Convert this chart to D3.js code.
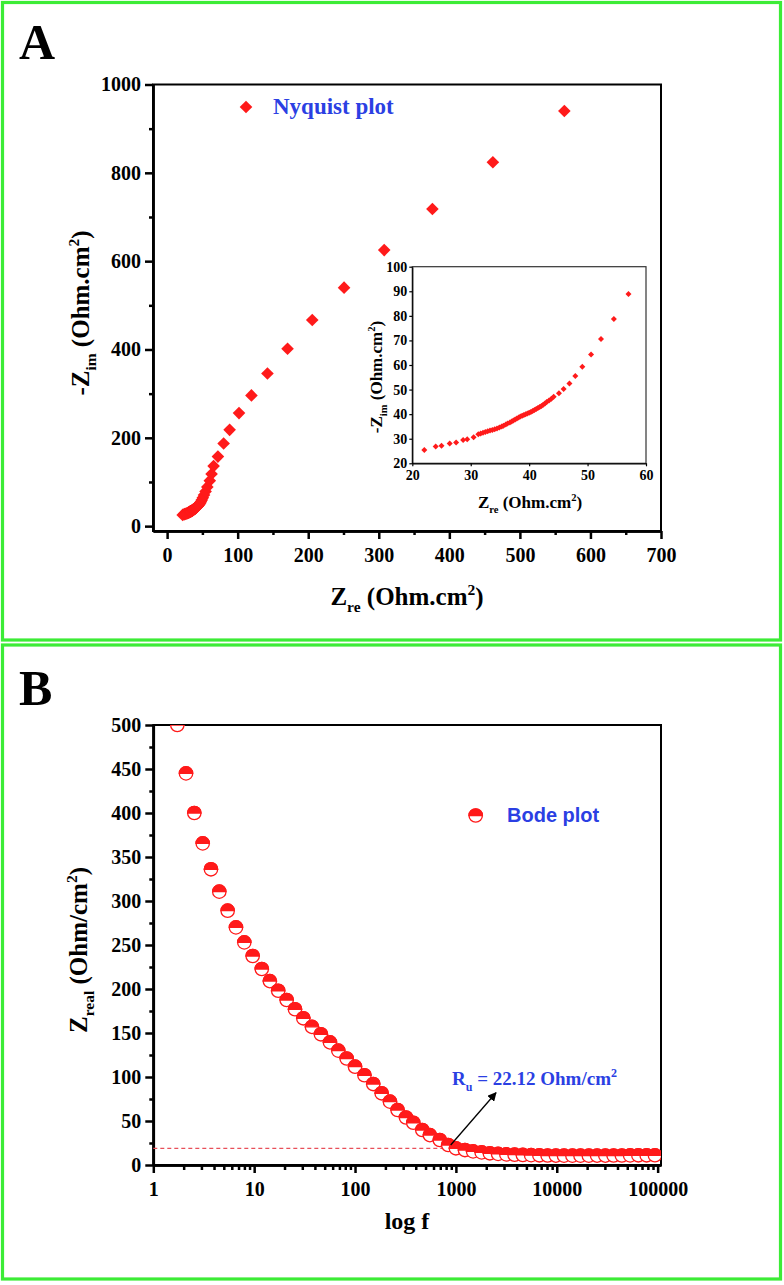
<!DOCTYPE html>
<html><head><meta charset="utf-8">
<script src="https://cdn.jsdelivr.net/npm/d3@7/dist/d3.min.js"></script>
<style>
html,body{margin:0;padding:0;background:#fff;}
svg{display:block;}
.tick text{font-family:"Liberation Serif","Times New Roman",serif;font-weight:bold;fill:#000;}
</style>
</head><body>
<svg id="chart" width="784" height="1285"></svg>
<script>
// ---------------- DATA ----------------
// Nyquist plot (Z_re, -Z_im) in Ohm.cm^2
const nyqRe = [22.06,24.0,25.0,26.4,27.5,28.7,29.4,30.5,
  31.3,31.7,32.1,32.5,32.9,33.3,33.7,34.1,34.5,34.9,35.3,35.6,36.0,36.3,36.7,37.0,37.3,37.6,37.9,38.2,38.5,38.8,39.1,39.4,39.7,40.0,40.3,40.6,40.9,41.2,41.5,41.8,42.1,42.4,42.7,43.0,43.4,43.8,44.2,
  45.1,45.9,46.9,47.9,49.1,50.6,52.3,54.5,57.0,
  60.5,63.0,65.9,72.0,80.1,88.6,101.9,119.5,142.2,170.7,205.7,250.8,307.7,376.0,461.7,563.0];
const nyqIm = [25.4,26.8,27.1,28.1,28.5,29.5,29.8,30.6,
  31.8,32.1,32.4,32.7,33.0,33.3,33.6,33.9,34.2,34.6,35.0,35.3,35.8,36.2,36.6,37.0,37.4,37.8,38.2,38.6,39.0,39.3,39.7,40.0,40.3,40.6,40.9,41.3,41.7,42.1,42.5,42.9,43.3,43.8,44.3,44.9,45.6,46.3,47.1,
  48.5,50.2,52.5,55.5,59.3,64.3,70.6,78.7,88.9,
  103,118,136,157.5,187,218,256,296,345.5,401.6,466.6,540,625,718,824,940];

// Bode plot (frequency Hz, Z_real Ohm/cm^2)
const bodeF = [1.73,2.11,2.55,3.09,3.73,4.51,5.46,6.6,7.98,9.66,11.9,14.3,17.3,21,25.4,30.7,37.4,45.9,56.4,68.2,82.6,100,124,151.5,183.6,222,264,320,378,464,552,692,839,1000,1230,1480,1800,2170,
  2620,3160,3820,4610,5570,6720,8110,9800,11800,14300,17200,20800,25100,30300,36600,44200,53400,64400,77800,94000];
const bodeZ = [500,445,400,365.5,336,310.6,289,270,253,237.5,222.7,209,198,187.5,177,166.7,157,148.5,139.4,130,121,111.7,102,92,81.5,72,62.5,54,48,39.8,34,28.4,22.7,19,17,15.5,14.3,13.3,
  12.6,12.1,11.7,11.4,11.2,11.0,10.8,10.7,10.6,10.6,10.6,10.6,10.7,10.7,10.8,10.8,10.9,11.0,11.0,11.1];

const nyqXTicks = [0,100,200,300,400,500,600,700];
const nyqYTicks = [0,200,400,600,800,1000];
const insetXTicks = [20,30,40,50,60];
const insetYTicks = [20,30,40,50,60,70,80,90,100];
const bodeXTicks = [1,10,100,1000,10000,100000];
const bodeYTicks = [0,50,100,150,200,250,300,350,400,450,500];
const RuLine = 19;

// ---------------- DRAW ----------------
const svg = d3.select("#chart");
const RED = "#ff1a1a", BLUE = "#2b3fe3", GREEN = "#3cec36";
const SERIF = '"Liberation Serif","Times New Roman",serif';
const SANS = '"Liberation Sans",Arial,sans-serif';
const fmt = d3.format("d");

// panel borders
svg.append("rect").attr("x",2.5).attr("y",2.5).attr("width",778).attr("height",637.5)
  .attr("fill","none").attr("stroke",GREEN).attr("stroke-width",3.2);
svg.append("rect").attr("x",2.5).attr("y",645).attr("width",778).attr("height",634)
  .attr("fill","none").attr("stroke",GREEN).attr("stroke-width",3.2);

svg.append("text").attr("x",19).attr("y",59).text("A")
  .attr("font-family",SERIF).attr("font-weight","bold").attr("font-size",50);
svg.append("text").attr("x",19).attr("y",705).text("B")
  .attr("font-family",SERIF).attr("font-weight","bold").attr("font-size",50);

function styleAxis(g, fs, w){
  g.select(".domain").attr("stroke","#000").attr("stroke-width",w);
  g.selectAll(".tick line").attr("stroke","#000").attr("stroke-width",w);
  g.selectAll(".tick text").attr("font-size",fs);
}

// ===== Panel A: Nyquist =====
const xA = d3.scaleLinear([-20,700],[153,661]);
const yA = d3.scaleLinear([-11,1000],[531,84.5]);

svg.append("rect").attr("x",153).attr("y",84.5).attr("width",661-153).attr("height",531-84.5)
  .attr("fill","none").attr("stroke","#000").attr("stroke-width",2);

let g = svg.append("g").attr("transform","translate(0,531)")
  .call(d3.axisBottom(xA).tickValues(d3.range(50,701,100)).tickSize(4).tickSizeOuter(0).tickFormat(""));
styleAxis(g,18,2.5);
g = svg.append("g").attr("transform","translate(0,531)")
  .call(d3.axisBottom(xA).tickValues(nyqXTicks).tickSize(8).tickSizeOuter(0).tickPadding(9).tickFormat(fmt));
styleAxis(g,20,2.5);
g = svg.append("g").attr("transform","translate(153,0)")
  .call(d3.axisLeft(yA).tickValues(d3.range(100,1000,200)).tickSize(4).tickSizeOuter(0).tickFormat(""));
styleAxis(g,18,2.5);
g = svg.append("g").attr("transform","translate(153,0)")
  .call(d3.axisLeft(yA).tickValues(nyqYTicks).tickSize(8).tickSizeOuter(0).tickPadding(4).tickFormat(fmt));
styleAxis(g,20,2.5);

const diamond = s => `M0,${-s}L${s},0L0,${s}L${-s},0Z`;
svg.append("g").selectAll("path").data(nyqRe.map((v,i)=>[v,nyqIm[i]])).join("path")
  .attr("d",diamond(6.3)).attr("fill",RED)
  .attr("transform",d=>`translate(${xA(d[0])},${yA(d[1])})`);

// legend
svg.append("path").attr("d",diamond(6.3)).attr("fill",RED).attr("transform","translate(246,107)");
svg.append("text").attr("x",273).attr("y",114).text("Nyquist plot")
  .attr("font-family",SERIF).attr("font-weight","bold").attr("font-size",23).attr("fill",BLUE);

// axis titles A
function zLabel(sel, main, sub, rest, fs){
  sel.attr("font-family",SERIF).attr("font-weight","bold").attr("font-size",fs).attr("fill","#000");
  sel.append("tspan").text(main);
  sel.append("tspan").text(sub).attr("font-size",fs*0.62).attr("dy",fs*0.28);
  sel.append("tspan").text(" " + rest).attr("dy",-fs*0.28);
  sel.append("tspan").text("2").attr("font-size",fs*0.62).attr("dy",-fs*0.4);
  sel.append("tspan").text(")").attr("dy",fs*0.4);
}
zLabel(svg.append("text").attr("x",407).attr("y",605).attr("text-anchor","middle"),"Z","re","(Ohm.cm",25);
zLabel(svg.append("text").attr("transform","translate(89,313) rotate(-90)").attr("text-anchor","middle"),"-Z","im","(Ohm.cm",25);

// ===== Inset =====
const xI = d3.scaleLinear([20,60],[412.3,646]);
const yI = d3.scaleLinear([20,100],[463.3,266.7]);
svg.append("rect").attr("x",412.3).attr("y",266.7).attr("width",646-412.3).attr("height",463.3-266.7)
  .attr("fill","#fff").attr("stroke","#333").attr("stroke-width",1.2);
g = svg.append("g").attr("transform","translate(0,463.3)")
  .call(d3.axisBottom(xI).tickValues(insetXTicks).tickSize(3).tickSizeOuter(0).tickPadding(4));
styleAxis(g,14,1.2);
g = svg.append("g").attr("transform","translate(412.3,0)")
  .call(d3.axisLeft(yI).tickValues(insetYTicks).tickSize(3).tickSizeOuter(0).tickPadding(2));
styleAxis(g,14,1.2);
svg.append("g").selectAll("path")
  .data(nyqRe.map((v,i)=>[v,nyqIm[i]]).filter(d=>d[0]>=20&&d[0]<=60&&d[1]>=20&&d[1]<=100)).join("path")
  .attr("d",diamond(3)).attr("fill",RED)
  .attr("transform",d=>`translate(${xI(d[0])},${yI(d[1])})`);
zLabel(svg.append("text").attr("x",530).attr("y",508).attr("text-anchor","middle"),"Z","re","(Ohm.cm",17);
zLabel(svg.append("text").attr("transform","translate(382,377) rotate(-90)").attr("text-anchor","middle"),"-Z","im","(Ohm.cm",17);

// ===== Panel B: Bode =====
const xB = d3.scaleLog([1,108000],[153.3,661]);
const yB = d3.scaleLinear([0,500],[1165,725]);

svg.append("defs").append("clipPath").attr("id","clipB").append("rect")
  .attr("x",153.3).attr("y",725).attr("width",661-153.3).attr("height",1165-725);

svg.append("rect").attr("x",153.3).attr("y",725).attr("width",661-153.3).attr("height",1165-725)
  .attr("fill","none").attr("stroke","#000").attr("stroke-width",2);

const minorLog = [];
for (let d=1; d<100000; d*=10) for (let k=2;k<=9;k++) minorLog.push(d*k);
g = svg.append("g").attr("transform","translate(0,1165)")
  .call(d3.axisBottom(xB).tickValues(minorLog).tickSize(5).tickSizeOuter(0).tickFormat(""));
styleAxis(g,18,2.5);
g = svg.append("g").attr("transform","translate(0,1165)")
  .call(d3.axisBottom(xB).tickValues(bodeXTicks).tickSize(8).tickSizeOuter(0).tickPadding(9).tickFormat(fmt));
styleAxis(g,20,2.5);
g = svg.append("g").attr("transform","translate(153.3,0)")
  .call(d3.axisLeft(yB).tickValues(d3.range(25,500,50)).tickSize(4).tickSizeOuter(0).tickFormat(""));
styleAxis(g,18,2.5);
g = svg.append("g").attr("transform","translate(153.3,0)")
  .call(d3.axisLeft(yB).tickValues(bodeYTicks).tickSize(8).tickSizeOuter(0).tickPadding(4).tickFormat(fmt));
styleAxis(g,20,2.5);

// dashed Ru line
svg.append("line").attr("x1",xB(1)).attr("x2",xB(880)).attr("y1",yB(RuLine)).attr("y2",yB(RuLine))
  .attr("stroke","#e8505a").attr("stroke-width",1.2).attr("stroke-dasharray","4,3");

const R = 6.7;
function halfCircle(sel){
  sel.append("circle").attr("r",R).attr("fill","#fff").attr("stroke",RED).attr("stroke-width",1.3);
  sel.append("path").attr("d",`M${-R},0A${R},${R} 0 0 1 ${R},0Z`).attr("fill",RED).attr("stroke",RED).attr("stroke-width",1.3);
}
const pts = svg.append("g").attr("clip-path","url(#clipB)").selectAll("g")
  .data(bodeF.map((f,i)=>[f,bodeZ[i]])).join("g")
  .attr("transform",d=>`translate(${xB(d[0])},${yB(d[1])})`);
pts.each(function(){ halfCircle(d3.select(this)); });

// legend
halfCircle(svg.append("g").attr("transform","translate(475.7,815.5)"));
svg.append("text").attr("x",507).attr("y",822).text("Bode plot")
  .attr("font-family",SANS).attr("font-weight","bold").attr("font-size",20).attr("fill",BLUE);

// arrow + annotation
svg.append("defs").append("marker").attr("id","arr").attr("viewBox","0 0 10 10").attr("refX",9).attr("refY",5)
  .attr("markerWidth",9).attr("markerHeight",9).attr("markerUnits","userSpaceOnUse").attr("orient","auto")
  .append("path").attr("d","M0,0L10,5L0,10Z").attr("fill","#000");
svg.append("line").attr("x1",450.7).attr("y1",1145).attr("x2",496).attr("y2",1092.7)
  .attr("stroke","#000").attr("stroke-width",1.3).attr("marker-end","url(#arr)");
const ru = svg.append("text").attr("x",452).attr("y",1085)
  .attr("font-family",SERIF).attr("font-weight","bold").attr("font-size",19).attr("fill",BLUE);
ru.append("tspan").text("R");
ru.append("tspan").text("u").attr("font-size",12).attr("dy",6);
ru.append("tspan").text(" = 22.12 Ohm/cm").attr("dy",-6);
ru.append("tspan").text("2").attr("font-size",12).attr("dy",-8);

// axis titles B
const yl = svg.append("text").attr("transform","translate(87,950) rotate(-90)").attr("text-anchor","middle")
  .attr("font-family",SERIF).attr("font-weight","bold").attr("font-size",25);
yl.append("tspan").text("Z");
yl.append("tspan").text("real").attr("font-size",15.5).attr("dy",7);
yl.append("tspan").text(" (Ohm/cm").attr("dy",-7);
yl.append("tspan").text("2").attr("font-size",15.5).attr("dy",-10);
yl.append("tspan").text(")").attr("dy",10);
svg.append("text").attr("x",407).attr("y",1229).attr("text-anchor","middle").text("log f")
  .attr("font-family",SERIF).attr("font-weight","bold").attr("font-size",24);
</script>
</body></html>
